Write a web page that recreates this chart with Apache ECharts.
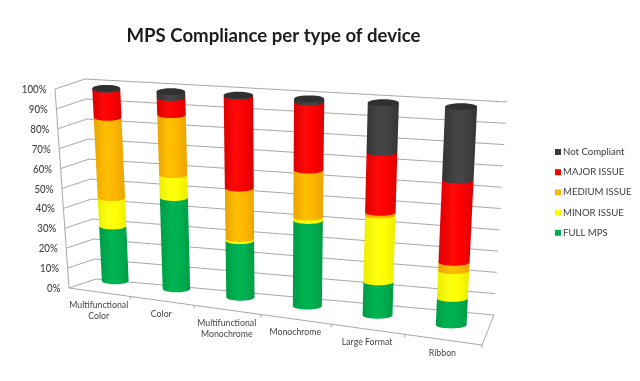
<!DOCTYPE html>
<html>
<head>
<meta charset="utf-8">
<title>MPS Compliance per type of device</title>
<script src="https://cdn.jsdelivr.net/npm/echarts@6/dist/echarts.min.js"></script>
<style>
    html, body { margin: 0; padding: 0; background: #fff; }
    #J-bar-3d { width: 640px; height: 381px; filter: blur(0.35px); }
</style>
</head>
<body>
<div id="J-bar-3d"></div>
<script>
const categories = ['Multifunctional\nColor', 'Color', 'Multifunctional\nMonochrome', 'Monochrome', 'Large Format', 'Ribbon'];
const yTicks = [0, 10, 20, 30, 40, 50, 60, 70, 80, 90, 100];
const yTickLabels = ['0%', '10%', '20%', '30%', '40%', '50%', '60%', '70%', '80%', '90%', '100%'];

const fullMps = [28.5, 46.3, 28, 41.3, 15.7, 12.2];
const minorIssue = [14.7, 11.6, 1, 1.6, 31.4, 12.7];
const mediumIssue = [41.7, 30.4, 25, 22.7, 1.3, 3.8];
const majorIssue = [14.6, 8.7, 45.5, 32.8, 28.2, 37.7];
const notCompliant = [0.5, 3, 0.5, 1.6, 23.4, 33.6];

const FONT = 'Lato';

// the flat grid is only a scale, everything is pushed through this projection afterwards
const wall = {
    frontBottomLeft: [69, 288], frontTopLeft: [55, 89], frontBottomRight: [482, 345],
    backBottomLeft: [96, 279], backTopLeft: [85, 79], backBottomRight: [494, 315], backTopRight: [507, 102]
};
const barPlane = {
    bottomLeft: [85.7, 277], bottomRight: [489.4, 330], topLeft: [75, 86.7], topRight: [501.5, 108.7]
};

const mix = (a, b, t) => [a[0] + (b[0] - a[0]) * t, a[1] + (b[1] - a[1]) * t];
const warp = u => u / (1.15 - 0.15 * u);

function flat(api, params, cat, val) {
    const cs = params.coordSys;
    const p = api.coord([cat, val]);
    return [(p[0] - cs.x) / cs.width, (cs.y + cs.height - p[1]) / cs.height];
}
function barPoint(u, v) {
    const f = warp(u);
    return mix(mix(barPlane.bottomLeft, barPlane.bottomRight, f), mix(barPlane.topLeft, barPlane.topRight, f), v);
}
function shaded(edge, mid, light) {
    return new echarts.graphic.LinearGradient(0, 0, 1, 0, [
        {offset: 0, color: edge}, {offset: .4, color: light}, {offset: .65, color: mid}, {offset: 1, color: edge}
    ]);
}
function ellipse(c, rx, ry, from, to) {
    const pts = [];
    for (let i = 0; i <= 24; i++) {
        const a = from + (to - from) * i / 24;
        pts.push([c[0] + rx * Math.cos(a), c[1] + ry * Math.sin(a)]);
    }
    return pts;
}

const layers = [
    {name: 'FULL MPS', values: fullMps, color: '#00b050', fill: shaded('#009c46', '#00b050', '#00b452')},
    {name: 'MINOR ISSUE', values: minorIssue, color: '#ffff00', fill: shaded('#ecec00', '#ffff00', '#ffff10')},
    {name: 'MEDIUM ISSUE', values: mediumIssue, color: '#ffb800', fill: shaded('#eba400', '#fdb700', '#ffc000')},
    {name: 'MAJOR ISSUE', values: majorIssue, color: '#ff0000', fill: shaded('#dc0000', '#ff0000', '#ff0808')},
    {name: 'Not Compliant', values: notCompliant, color: '#3a3a3a', fill: shaded('#343434', '#434343', '#454545')}
];

function renderCylinder(layer, isTop) {
    return function(params, api) {
        const cat = api.value(0);
        const lo = flat(api, params, cat, api.value(1));
        const hi = flat(api, params, cat, api.value(2));
        const b = barPoint(lo[0], lo[1]);
        const t = barPoint(hi[0], hi[1]);
        const f = warp(lo[0]);
        const rxB = 13.2 + 2.4 * f + .6 * lo[1];
        const rxT = 13.2 + 2.4 * f + .6 * hi[1];
        const ry = 3.4;
        const side = ellipse(b, rxB, ry, Math.PI, 0).concat([[t[0] + rxT, t[1]], [t[0] - rxT, t[1]]]);
        const children = [{
            type: 'polygon',
            shape: {points: side},
            style: {fill: layer.fill}
        }];
        if (isTop) {
            children.push({
                type: 'polygon',
                shape: {points: ellipse(t, rxT, ry, 0, Math.PI * 2)},
                style: {fill: '#303030'}
            });
        }
        return {type: 'group', children: children};
    };
}

function renderWallLine(params, api) {
    const v = flat(api, params, 0, api.value(0))[1];
    const front = mix(wall.frontBottomLeft, wall.frontTopLeft, v);
    const corner = mix(wall.backBottomLeft, wall.backTopLeft, v);
    const right = mix(wall.backBottomRight, wall.backTopRight, v);
    const style = {stroke: '#a8a8a8', lineWidth: 1, fill: 'none'};
    return {
        type: 'group',
        children: [
            {type: 'polyline', shape: {points: [front, corner, right]}, style: style},
            {
                type: 'text',
                x: front[0] - 8.5,
                y: front[1] + .5,
                scaleX: .88,
                style: {
                    text: yTickLabels[params.dataIndex],
                    textAlign: 'right',
                    textVerticalAlign: 'middle',
                    fontFamily: FONT,
                    fontSize: 11,
                    fontWeight: 500,
                    fill: '#404040'
                }
            }
        ]
    };
}

function renderFloor(params, api) {
    const i = api.value(0);
    const u = flat(api, params, i, 0)[0];
    const step = 1 / categories.length;
    const onFront = w => mix(wall.frontBottomLeft, wall.frontBottomRight, warp(w));
    const tick = onFront(u + step / 2);
    const mid = onFront(u);
    return {
        type: 'group',
        children: [
            {
                type: 'line',
                shape: {x1: tick[0], y1: tick[1], x2: tick[0], y2: tick[1] + 3},
                style: {stroke: '#a0a0a0', lineWidth: 1}
            },
            {
                type: 'text',
                x: mid[0] - .5,
                y: mid[1] + 7.5,
                scaleX: .92,
                style: {
                    text: categories[i],
                    textAlign: 'center',
                    textVerticalAlign: 'top',
                    lineHeight: 11,
                    fontFamily: FONT,
                    fontSize: 9.5,
                    fill: '#444'
                }
            }
        ]
    };
}

function renderFloorEdges() {
    const style = {stroke: '#a8a8a8', lineWidth: 1, fill: 'none'};
    return {
        type: 'group',
        children: [
            {type: 'line', shape: {x1: wall.frontBottomLeft[0], y1: wall.frontBottomLeft[1], x2: wall.frontTopLeft[0], y2: wall.frontTopLeft[1]}, style: style},
            {type: 'polyline', shape: {points: [wall.frontBottomLeft, wall.frontBottomRight, wall.backBottomRight]}, style: style}
        ]
    };
}

const running = categories.map(() => 0);
const barSeries = layers.map(function(layer, idx) {
    const data = layer.values.map(function(val, i) {
        const row = [i, running[i], running[i] + val];
        running[i] += val;
        return row;
    });
    return {
        name: layer.name,
        type: 'custom',
        renderItem: renderCylinder(layer, idx === layers.length - 1),
        itemStyle: {color: layer.color},
        encode: {x: 0, y: [1, 2]},
        z: 5 + idx,
        data: data
    };
});

const option = {
    animation: false,
    backgroundColor: '#fff',
    title: {
        text: 'MPS Compliance per type of device',
        left: 268.5,
        top: 21,
        textAlign: 'center',
        textStyle: {
            fontFamily: FONT,
            fontSize: 18.6,
            fontWeight: 700,
            color: '#1c1c1c'
        }
    },
    legend: {
        data: layers.map(l => l.name).reverse(),
        orient: 'vertical',
        left: 550,
        top: 142,
        itemWidth: 6,
        itemHeight: 6,
        itemGap: 10.2,
        icon: 'rect',
        selectedMode: false,
        textStyle: {
            fontFamily: FONT,
            fontSize: 9.6,
            color: '#3a3a44',
            padding: [0, 0, 0, -3]
        }
    },
    grid: {left: 60, right: 140, top: 80, bottom: 60},
    xAxis: {type: 'category', data: categories, show: false},
    yAxis: {type: 'value', min: 0, max: 100, interval: 10, show: false},
    series: [
        {
            name: 'walls',
            type: 'custom',
            renderItem: renderWallLine,
            encode: {y: 0},
            z: 1,
            data: yTicks.map(v => [v])
        },
        {
            name: 'floor',
            type: 'custom',
            renderItem: renderFloor,
            encode: {x: 0},
            z: 2,
            data: categories.map((c, i) => [i])
        },
        {
            name: 'edges',
            type: 'custom',
            renderItem: renderFloorEdges,
            z: 2,
            data: [[0, 0]]
        }
    ].concat(barSeries)
};

const chart = echarts.init(document.getElementById('J-bar-3d'), null, {renderer: 'canvas'});
chart.setOption(option);
</script>
</body>
</html>
